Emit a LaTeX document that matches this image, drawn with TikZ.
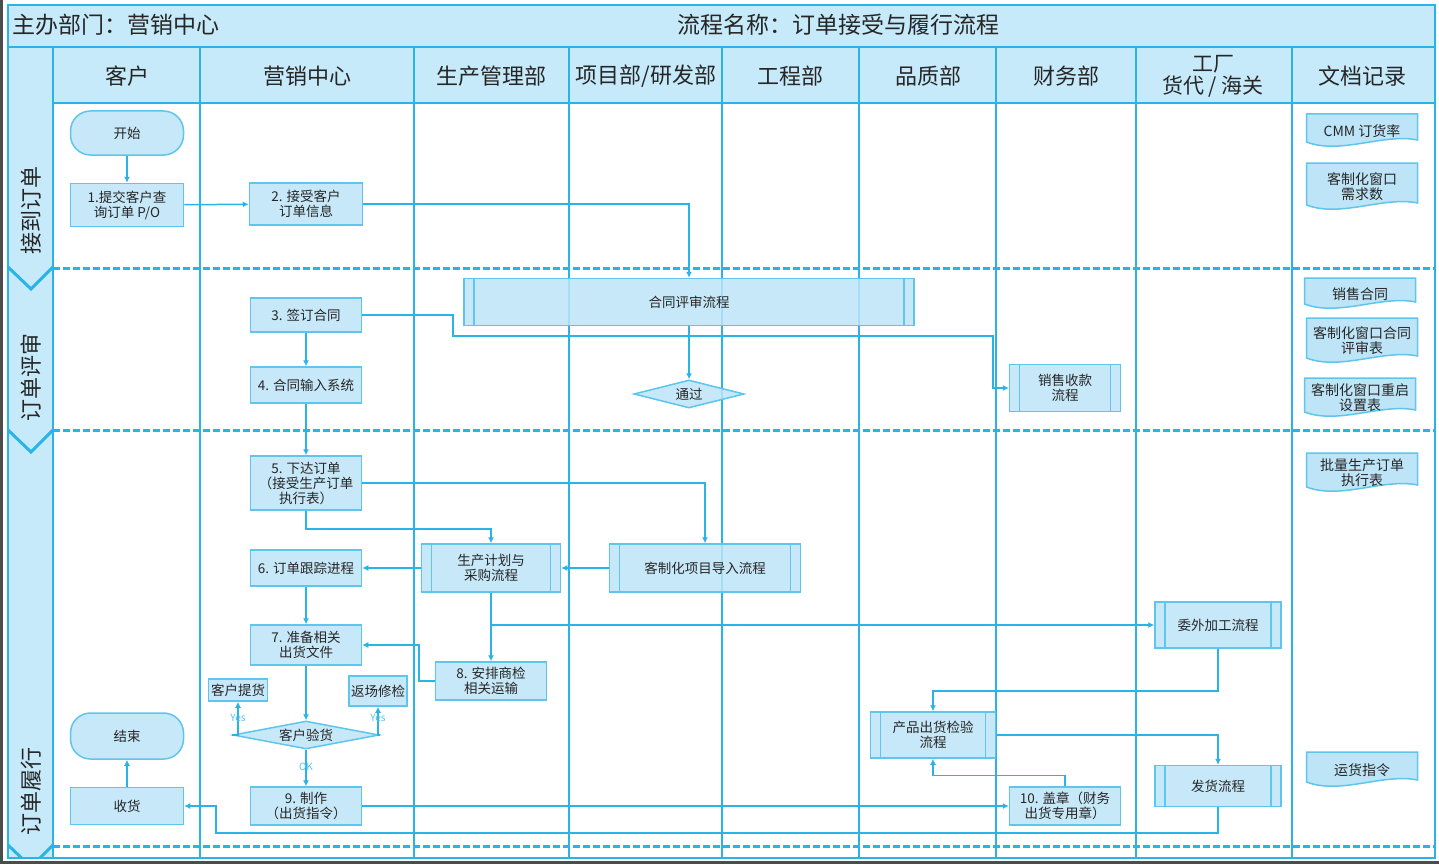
\documentclass[tikz,border=0pt]{standalone}
\usepackage{fontspec}
\setmainfont{Noto Sans CJK SC}
\usetikzlibrary{arrows.meta,shapes.geometric,calc}
\definecolor{lb}{HTML}{29B3E6}
\definecolor{fillb}{HTML}{BEE5F7}
\definecolor{hdr}{HTML}{C6EAFA}
\definecolor{txt}{HTML}{262626}
\tikzset{
  lane/.style={draw=lb, line width=2pt},
  phaseline/.style={draw=lb, line width=3pt, dash pattern=on 7pt off 3pt},
  sz/.style 2 args={minimum width=#1pt, minimum height=#2pt},
  box/.style={draw=lb!75, fill=fillb, fill opacity=0.85, text opacity=1, line width=1.5pt, align=center, inner sep=1pt,
    font=\fontsize{13.5}{15}\selectfont, text=txt},
  term/.style={box, rounded corners=20pt},
  pre/.style={box, path picture={
      \draw[lb!75, line width=1.3pt]
        ([xshift=10pt]path picture bounding box.north west) -- ([xshift=10pt]path picture bounding box.south west)
        ([xshift=-10pt]path picture bounding box.north east) -- ([xshift=-10pt]path picture bounding box.south east);}},
  dia/.style={box, diamond, aspect=4, inner sep=0pt},
  small/.style={box, font=\fontsize{13.5}{14}\selectfont},
  doc/.style={align=center, inner sep=1pt, text=txt, font=\fontsize{14}{15}\selectfont,
    path picture={
      \filldraw[fill=fillb, draw=lb!75, line width=1.5pt]
        ([shift={(1pt,-1pt)}]path picture bounding box.north west)
        -- ([shift={(-1pt,-1pt)}]path picture bounding box.north east)
        -- ([shift={(-1pt,9pt)}]path picture bounding box.south east)
        .. controls ([shift={(-35pt,16pt)}]path picture bounding box.south east)
           and ([shift={(35pt,-6pt)}]path picture bounding box.south west)
        .. ([shift={(1pt,7pt)}]path picture bounding box.south west)
        -- cycle;}},
  flow/.style={draw=lb, line width=1.5pt},
  arr/.style={flow, -{Latex[length=6pt,width=6pt]}},
  hd/.style={font=\fontsize{22}{23}\selectfont, text=txt, align=center, inner sep=0pt},
  ttl/.style={font=\fontsize{23}{24}\selectfont, text=txt, inner sep=0pt},
  ph/.style={font=\fontsize{22}{23}\selectfont, text=txt, rotate=90, inner sep=0pt},
  yl/.style={font=\fontsize{10}{11}\selectfont, text=lb!80, inner sep=0pt}
}
\begin{document}
\begin{tikzpicture}[x=1pt,y=-1pt]
\useasboundingbox (0,0) rectangle (1439,864);
\fill[white] (0,0) rectangle (1439,864);
% frame and lanes
\fill[hdr] (8,5) rectangle (1435,103);
\fill[hdr] (8,103) rectangle (53,858);
\begin{scope}
\clip (8,5) rectangle (1435,858);
\foreach \y in {267,430,845} \draw[lb, line width=3pt, line join=miter] (8,\y) -- (31,{\y+22}) -- (53,\y);
\end{scope}
\draw[lane, line width=2.5pt] (8,5) rectangle (1435,858);
\draw[lane] (8,47) -- (1435,47);
\draw[lane] (53,103) -- (1435,103);
\foreach \x in {53,200,414,569,722,859,996,1136,1292} \draw[lane] (\x,47) -- (\x,858);
\foreach \y in {268,430,846} \draw[phaseline] (53,\y) -- (1435,\y);
\draw[black!70, line width=3pt] (1.5,0) -- (1.5,862.5) -- (1439,862.5);
% titles
\node[ttl, anchor=west] (t1) at (12,25) {主办部门：营销中心};
\node[ttl] (t2) at (838,25) {流程名称：订单接受与履行流程};
\node[hd] (h1) at (127,76) {客户};
\node[hd] (h2) at (307,76) {营销中心};
\node[hd] (h3) at (491,76) {生产管理部};
\node[hd] (h4) at (646,76) {项目部/研发部};
\node[hd] (h5) at (790,76) {工程部};
\node[hd] (h6) at (928,76) {品质部};
\node[hd] (h7) at (1066,76) {财务部};
\node[hd, font=\fontsize{21}{22}\selectfont] (h8) at (1213,76) {工厂\\货代 / 海关};
\node[hd] (h9) at (1362,76) {文档记录};
\node[ph] (p1) at (31,210) {接到订单};
\node[ph] (p2) at (31,377) {订单评审};
\node[ph] (p3) at (31,791) {订单履行};
% nodes
\node[term, sz={113}{44}] (start) at (127,133) {开始};
\node[box, sz={113}{43}] (n1) at (127,205) {1.提交客户查\\询订单 P/O};
\node[box, sz={113}{42}] (n2) at (306,204) {2. 接受客户\\订单信息};
\node[pre, sz={450}{47}] (review) at (689,302) {合同评审流程};
\node[box, sz={111}{34}] (n3) at (306,315) {3. 签订合同};
\node[box, sz={111}{36}] (n4) at (306,385) {4. 合同输入系统};
\node[dia, sz={110}{28}] (pass) at (689,394) {通过};
\node[pre, sz={111}{47}] (sales) at (1065,388) {销售收款\\流程};
\node[box, sz={111}{54}] (n5) at (306,483) {5. 下达订单\\（接受生产订单\\执行表）};
\node[box, sz={111}{36}] (n6) at (306,568) {6. 订单跟踪进程};
\node[pre, sz={139}{48}] (plan) at (491,568) {生产计划与\\采购流程};
\node[pre, sz={191}{48}] (custom) at (705,568) {客制化项目导入流程};
\node[box, sz={111}{40}] (n7) at (306,645) {7. 准备相关\\出货文件};
\node[pre, sz={126}{46}] (outsrc) at (1218,625) {委外加工流程};
\node[box, sz={111}{38}] (n8) at (491,681) {8. 安排商检\\相关运输};
\node[small, sz={59}{22}] (pickup) at (238,690) {客户提货};
\node[small, sz={58}{30}] (repair) at (378,691) {返场修检};
\node[dia, sz={146}{28}] (check) at (306,735) {客户验货};
\node[term, sz={113}{46}] (end) at (127,736) {结束};
\node[pre, sz={125}{46}] (inspect) at (933,735) {产品出货检验\\流程};
\node[pre, sz={126}{41}] (ship) at (1218,786) {发货流程};
\node[box, sz={113}{37}] (recv) at (127,806) {收货};
\node[box, sz={111}{38}] (n9) at (306,806) {9. 制作\\（出货指令）};
\node[box, sz={111}{38}] (n10) at (1065,806) {10. 盖章（财务\\出货专用章）};
% documents
\node[doc, sz={113}{36}] (d1) at (1362,131) {CMM 订货率};
\node[doc, sz={113}{50}] (d2) at (1362,187) {客制化窗口\\需求数};
\node[doc, sz={113}{34}] (d3) at (1360,294) {销售合同};
\node[doc, sz={113}{48}] (d4) at (1362,341) {客制化窗口合同\\评审表};
\node[doc, sz={113}{42}] (d5) at (1360,398) {客制化窗口重启\\设置表};
\node[doc, sz={113}{42}] (d6) at (1362,473) {批量生产订单\\执行表};
\node[doc, sz={113}{38}] (d7) at (1362,770) {运货指令};
% coordinates
\coordinate (c3a) at (453,336);
\coordinate (c3b) at (993,336);
\coordinate (cRet) at (216,833);
% connectors
\draw[arr] (start) -- (n1);
\draw[arr] (n1) -- (n2);
\draw[arr] (n2.east) -| (review.north);
\draw[arr] (n3.east) -| (c3a) -- (c3b) |- (sales.west);
\draw[arr] (review) -- (pass);
\draw[arr] (n3) -- (n4);
\draw[arr] (n4) -- (n5);
\draw[arr] (n5.east) -| (custom.north);
\draw[arr] (n5.south) -- ++(0,18) -| (plan.north);
\draw[arr] (plan) -- (n6);
\draw[arr] (custom) -- (plan);
\draw[arr] (n6) -- (n7);
\draw[arr] (plan) -- (n8);
\draw[arr] (plan.south) |- (outsrc.west);
\draw[arr] (n8.west) -- ++(-16,0) |- (n7.east);
\draw[arr] (n7) -- (check);
\draw[arr] (check.west) -| (pickup.south);
\draw[arr] (check.east) -| (repair.south);
\draw[arr] (check) -- (n9);
\node[yl] (y1) at (238,718) {Yes};
\node[yl] (y2) at (378,718) {Yes};
\node[yl] (ok) at (306,767) {OK};
\draw[arr] (n9) -- (n10);
\draw[arr] (ship.south) |- (cRet) |- (recv.east);
\draw[arr] (recv) -- (end);
\draw[arr] (outsrc.south) -- ++(0,42) -| (inspect.north);
\draw[arr] (inspect.east) -| (ship.north);
\draw[arr] (n10.north) -- ++(0,-11) -| (inspect.south);
\end{tikzpicture}
\end{document}
